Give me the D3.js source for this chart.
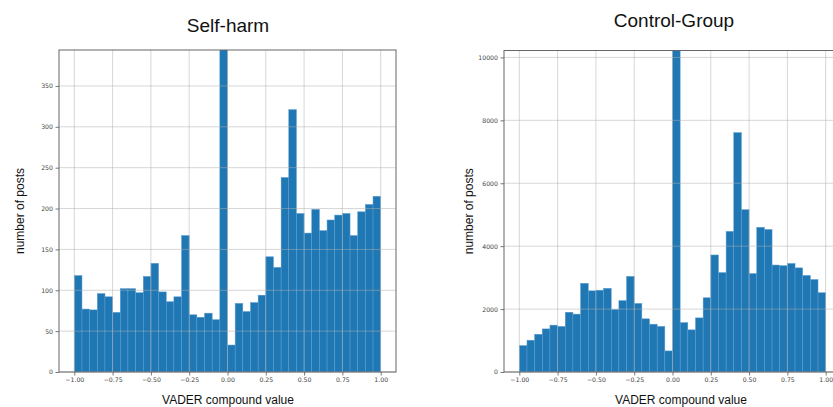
<!DOCTYPE html>
<html>
<head>
<meta charset="utf-8">
<script src="https://cdn.jsdelivr.net/npm/d3@7"></script>
<style>
  body { margin: 0; background: #fff; }
  svg { display: block; }
  .tick text { font-family: "DejaVu Sans", sans-serif; font-size: 6.2px; fill: #444; }
  .title, .axis-label { font-family: "Liberation Sans", Arial, sans-serif; fill: #111; }
</style>
</head>
<body>
<div id="plot-container"></div>
<script>
// Histogram bins: 40 bins of width 0.05 over the VADER range [-1, 1]
const binWidth = 0.05;
const binStarts = d3.range(40).map(i => -1 + i * binWidth);

// Counts per bin (centre spikes run past the top of the axes)
const selfHarmCounts = [118, 77, 76, 96, 92, 73, 102, 102, 97, 117,
    133, 98, 86, 92, 167, 70, 67, 72, 64, 1050,
    33, 84, 74, 85, 94, 141, 128, 238, 321, 194,
    170, 199, 173, 186, 192, 194, 167, 196, 205, 215];
const controlCounts = [840, 1010, 1200, 1370, 1490, 1450, 1900, 1840, 2820, 2580,
    2600, 2660, 1990, 2270, 3040, 2180, 1690, 1520, 1450, 670,
    21000, 1570, 1340, 1720, 2360, 3720, 3160, 4470, 7610, 5160,
    3130, 4600, 4530, 3400, 3380, 3450, 3310, 3070, 2940, 2520];

const xTicks = [-1.00, -0.75, -0.50, -0.25, 0.00, 0.25, 0.50, 0.75, 1.00];
const selfHarmYTicks = [0, 50, 100, 150, 200, 250, 300, 350];
const controlYTicks = [0, 2000, 4000, 6000, 8000, 10000];

const panels = [
    { id: "a", title: "Self-harm", counts: selfHarmCounts, yTicks: selfHarmYTicks, yMax: 394,
      left: 59, right: 396, top: 50, bottom: 372, titleX: 228, titleY: 32, xlabX: 228, ylabX: 23.5 },
    { id: "b", title: "Control-Group", counts: controlCounts, yTicks: controlYTicks, yMax: 10220,
      left: 504, right: 841, top: 50.5, bottom: 372, titleX: 674, titleY: 27, xlabX: 681, ylabX: 473 }
];

const svg = d3.select("#plot-container")
    .append("svg")
    .attr("width", 833)
    .attr("height", 407);

function draw_panel(p) {
    const x = d3.scaleLinear().domain([-1.1, 1.1]).range([p.left, p.right]);
    const y = d3.scaleLinear().domain([0, p.yMax]).range([p.bottom, p.top]);
    const data = binStarts.map((b, i) => ({ x0: b, x1: b + binWidth, value: p.counts[i] }));

    svg.append("clipPath").attr("id", "clip-" + p.id)
        .append("rect")
        .attr("x", p.left).attr("y", p.top)
        .attr("width", p.right - p.left).attr("height", p.bottom - p.top);

    const g = svg.append("g");

    // bars
    g.append("g").attr("clip-path", `url(#clip-${p.id})`)
        .selectAll("rect")
        .data(data)
        .enter()
        .append("rect")
        .attr("x", d => x(d.x0))
        .attr("y", d => y(d.value))
        .attr("width", d => x(d.x1) - x(d.x0))
        .attr("height", d => y(0) - y(d.value))
        .attr("fill", "#1f77b4")
        .attr("stroke", "#5d9dd1")
        .attr("stroke-width", 0.5);

    // grid drawn over bars, semi-transparent like the original
    const grid = g.append("g").attr("stroke", "rgba(176,176,176,0.5)").attr("stroke-width", 1);
    grid.selectAll(".gx").data(xTicks).enter().append("line")
        .attr("x1", d => x(d)).attr("x2", d => x(d))
        .attr("y1", p.top).attr("y2", p.bottom);
    grid.selectAll(".gy").data(p.yTicks).enter().append("line")
        .attr("x1", p.left).attr("x2", p.right)
        .attr("y1", d => y(d)).attr("y2", d => y(d));

    // axes
    const xAxis = g.append("g")
        .attr("transform", `translate(0,${p.bottom})`)
        .call(d3.axisBottom(x).tickValues(xTicks).tickFormat(d3.format(".2f")).tickSize(3.5).tickPadding(2.5));
    const yAxis = g.append("g")
        .attr("transform", `translate(${p.left},0)`)
        .call(d3.axisLeft(y).tickValues(p.yTicks).tickFormat(d3.format("d")).tickSize(3.5).tickPadding(2.5));
    [xAxis, yAxis].forEach(a => {
        a.select(".domain").remove();
        a.selectAll(".tick line").attr("stroke", "#555").attr("stroke-width", 0.8);
    });

    // spines
    g.append("rect")
        .attr("x", p.left).attr("y", p.top)
        .attr("width", p.right - p.left).attr("height", p.bottom - p.top)
        .attr("fill", "none")
        .attr("stroke", "#666")
        .attr("stroke-width", 1);

    // titles and labels
    g.append("text").attr("class", "title")
        .attr("x", p.titleX).attr("y", p.titleY)
        .attr("text-anchor", "middle")
        .style("font-size", "19px")
        .text(p.title);
    g.append("text").attr("class", "axis-label")
        .attr("x", p.xlabX).attr("y", 404)
        .attr("text-anchor", "middle")
        .style("font-size", "12px")
        .text("VADER compound value");
    g.append("text").attr("class", "axis-label")
        .attr("transform", `translate(${p.ylabX},${(p.top + p.bottom) / 2}) rotate(-90)`)
        .attr("text-anchor", "middle")
        .style("font-size", "12px")
        .text("number of posts");
}

panels.forEach(draw_panel);
</script>
</body>
</html>
